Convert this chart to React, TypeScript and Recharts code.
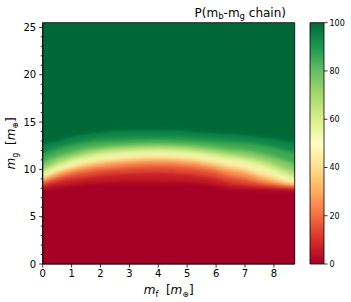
import React from 'react';
import { ComposedChart, Area, XAxis, YAxis, CartesianGrid, ReferenceArea, BarChart, Bar } from 'recharts';

// m_f columns (x) at which the contour heights were read
const mfCols = [0, 0.5, 1, 1.5, 2, 3, 4, 5, 6, 6.5, 7, 7.5, 8, 8.4, 8.72];
// m_g height (y) of each probability contour level, per column
const p97 = [12.6, 13.0, 13.4, 13.7, 13.9, 14.1, 14.1, 14.0, 13.8, 13.7, 13.6, 13.4, 13.2, 13.0, 12.8];
const p90 = [11.6, 12.2, 12.6, 12.9, 13.1, 13.2, 13.3, 13.2, 13.0, 12.9, 12.8, 12.6, 12.3, 12.0, 11.8];
const p80 = [10.7, 11.4, 11.8, 12.2, 12.4, 12.6, 12.7, 12.6, 12.3, 12.1, 12.0, 11.7, 11.3, 10.9, 10.5];
const p70 = [10.0, 10.8, 11.3, 11.7, 12.0, 12.25, 12.35, 12.2, 11.85, 11.6, 11.4, 11.1, 10.6, 10.1, 9.7];
const p60 = [9.6, 10.35, 10.9, 11.3, 11.6, 11.9, 12.0, 11.85, 11.45, 11.2, 11.0, 10.6, 10.0, 9.5, 9.1];
const p50 = [9.3, 10.0, 10.5, 10.9, 11.15, 11.45, 11.55, 11.45, 11.0, 10.75, 10.5, 10.0, 9.5, 9.0, 8.7];
const p40 = [9.05, 9.7, 10.2, 10.55, 10.8, 11.1, 11.2, 11.1, 10.6, 10.3, 10.0, 9.5, 9.05, 8.65, 8.45];
const p30 = [8.8, 9.45, 9.9, 10.25, 10.5, 10.8, 10.9, 10.75, 10.25, 9.9, 9.6, 9.1, 8.7, 8.4, 8.3];
const p20 = [8.55, 9.1, 9.5, 9.8, 10.0, 10.3, 10.4, 10.25, 9.75, 9.3, 9.0, 8.6, 8.35, 8.15, 8.1];
const p10 = [8.3, 8.7, 9.0, 9.2, 9.4, 9.6, 9.7, 9.5, 9.05, 8.6, 8.4, 8.2, 8.05, 7.95, 7.9];
const p3 = [7.9, 8.1, 8.3, 8.5, 8.6, 8.7, 8.7, 8.6, 8.3, 8.0, 7.95, 7.9, 7.85, 7.8, 7.75];

const xTicks = [0, 1, 2, 3, 4, 5, 6, 7, 8];
const yTicks = Array.from({ length: 26 }, (_, i) => i);
const cbarTicks = [0, 20, 40, 60, 80, 100];
const X_MAX = 8.72;
const Y_MAX = 25.5;

// RdYlGn colormap stops
const rdylgn = ['#a50026', '#d73027', '#f46d43', '#fdae61', '#fee08b', '#ffffbf', '#d9ef8b', '#a6d96a', '#66bd63', '#1a9850', '#006837'];

const bands = [
  { key: 'p97', fill: '#118747' },
  { key: 'p90', fill: '#40aa51' },
  { key: 'p80', fill: '#86cb66' },
  { key: 'p70', fill: '#bfe47a' },
  { key: 'p60', fill: '#ecf7a5' },
  { key: 'p50', fill: '#feefa5' },
  { key: 'p40', fill: '#fdc776' },
  { key: 'p30', fill: '#f88d52' },
  { key: 'p20', fill: '#e54e35' },
  { key: 'p10', fill: '#c51f26' },
  { key: 'p3', fill: '#a50026' },
];

const data = mfCols.map((x, i) => ({
  x,
  p97: p97[i], p90: p90[i], p80: p80[i], p70: p70[i], p60: p60[i], p50: p50[i],
  p40: p40[i], p30: p30[i], p20: p20[i], p10: p10[i], p3: p3[i],
}));

const FONT = 'DejaVu Sans';

const YTick = (props: any) => {
  const { x, y, payload } = props;
  const axisX = x + 6.5;
  const major = payload.value % 5 === 0;
  return (
    <g>
      <line x1={axisX - (major ? 3.5 : 2)} x2={axisX} y1={y} y2={y} stroke="#000" strokeWidth={0.8} />
      {major && (
        <text x={x} y={y} dy={3.6} textAnchor="end" fontSize={10} fontFamily={FONT} fill="#000">
          {payload.value}
        </text>
      )}
    </g>
  );
};

const XLabel = (props: any) => {
  const vb = props.viewBox || {};
  const cx = vb.x + vb.width / 2;
  return (
    <text x={cx} y={vb.y + 30} textAnchor="middle" fontSize={12} fontFamily={FONT} fill="#000">
      <tspan fontStyle="italic">m</tspan>
      <tspan fontSize={8} dy={3}>f</tspan>
      <tspan dy={-3}>{'\u00a0\u00a0['}</tspan>
      <tspan fontStyle="italic">m</tspan>
      <tspan fontSize={8} dy={3}>⊕</tspan>
      <tspan dy={-3}>]</tspan>
    </text>
  );
};

const YLabel = (props: any) => {
  const vb = props.viewBox || {};
  const cy = vb.y + vb.height / 2;
  const cx = 15;
  return (
    <text x={cx} y={cy} transform={`rotate(-90 ${cx} ${cy})`} textAnchor="middle" fontSize={12} fontFamily={FONT} fill="#000">
      <tspan fontStyle="italic">m</tspan>
      <tspan fontSize={8} dy={3}>g</tspan>
      <tspan dy={-3}>{'\u00a0\u00a0['}</tspan>
      <tspan fontStyle="italic">m</tspan>
      <tspan fontSize={8} dy={3}>⊕</tspan>
      <tspan dy={-3}>]</tspan>
    </text>
  );
};

const cbarData = [{ name: 'P', v: 100 }];

export default function App() {
  return (
    <div style={{ position: 'absolute', left: 0, top: 0, width: 351, height: 302, background: '#fff' }}>
      <div style={{ position: 'absolute', left: 0, top: 0 }}>
        <ComposedChart width={351} height={302} data={data} margin={{ top: 22.7, right: 56.3, left: 0, bottom: 0 }}>
          <defs>
            <filter id="vblur" x="-5%" y="-20%" width="110%" height="140%">
              <feGaussianBlur stdDeviation="0 2.2" />
            </filter>
          </defs>
          <CartesianGrid horizontal={false} vertical={false} fill="#006837" />
          {bands.map((b) => (
            <Area
              key={b.key}
              dataKey={b.key}
              type="monotone"
              fill={b.fill}
              fillOpacity={1}
              stroke="none"
              filter="url(#vblur)"
              isAnimationActive={false}
              dot={false}
              activeDot={false}
              baseValue={-3}
            />
          ))}
          <ReferenceArea x1={0} x2={X_MAX} y1={0} y2={Y_MAX} fill="none" stroke="#000" strokeWidth={0.8} ifOverflow="visible" />
          <XAxis
            dataKey="x"
            type="number"
            domain={[0, X_MAX]}
            ticks={xTicks}
            allowDataOverflow
            height={38}
            tickSize={3.5}
            tickMargin={2}
            stroke="#000"
            tick={{ fontSize: 10, fontFamily: FONT, fill: '#000' }}
            tickLine={{ stroke: '#000', strokeWidth: 0.8 }}
            axisLine={{ stroke: '#000', strokeWidth: 0.8 }}
            interval={0}
            label={XLabel}
          />
          <YAxis
            type="number"
            domain={[0, Y_MAX]}
            ticks={yTicks}
            allowDataOverflow
            width={42.7}
            tickSize={3.5}
            tickMargin={3}
            tickLine={false}
            interval={0}
            axisLine={{ stroke: '#000', strokeWidth: 0.8 }}
            tick={YTick}
            label={YLabel}
          />
        </ComposedChart>
      </div>
      <div style={{ position: 'absolute', left: 0, top: 0 }}>
        <BarChart width={351} height={302} data={cbarData} margin={{ top: 22.7, right: 0, left: 310, bottom: 38 }} barCategoryGap={0}>
          <defs>
            <linearGradient id="cbar" x1="0" y1="1" x2="0" y2="0">
              {rdylgn.map((c, i) => (
                <stop key={i} offset={`${i * 10}%`} stopColor={c} />
              ))}
            </linearGradient>
          </defs>
          <XAxis dataKey="name" hide />
          <YAxis
            orientation="right"
            type="number"
            domain={[0, 100]}
            ticks={cbarTicks}
            width={27}
            tickSize={3.5}
            tickMargin={2}
            axisLine={false}
            tickLine={{ stroke: '#000', strokeWidth: 0.8 }}
            tick={{ fontSize: 8, fontFamily: FONT, fill: '#000' }}
            interval={0}
          />
          <Bar dataKey="v" fill="url(#cbar)" stroke="#000" strokeWidth={0.8} isAnimationActive={false} />
        </BarChart>
      </div>
      <svg width={351} height={302} style={{ position: 'absolute', left: 0, top: 0, pointerEvents: 'none' }}>
        <text x={286} y={16.5} textAnchor="end" fontSize={12} fontFamily={FONT} fill="#000">
          P(m<tspan fontSize={8.5} dy={2.5}>b</tspan><tspan dy={-2.5}>-m</tspan><tspan fontSize={8.5} dy={2.5}>g</tspan><tspan dy={-2.5}> chain)</tspan>
        </text>
      </svg>
    </div>
  );
}
